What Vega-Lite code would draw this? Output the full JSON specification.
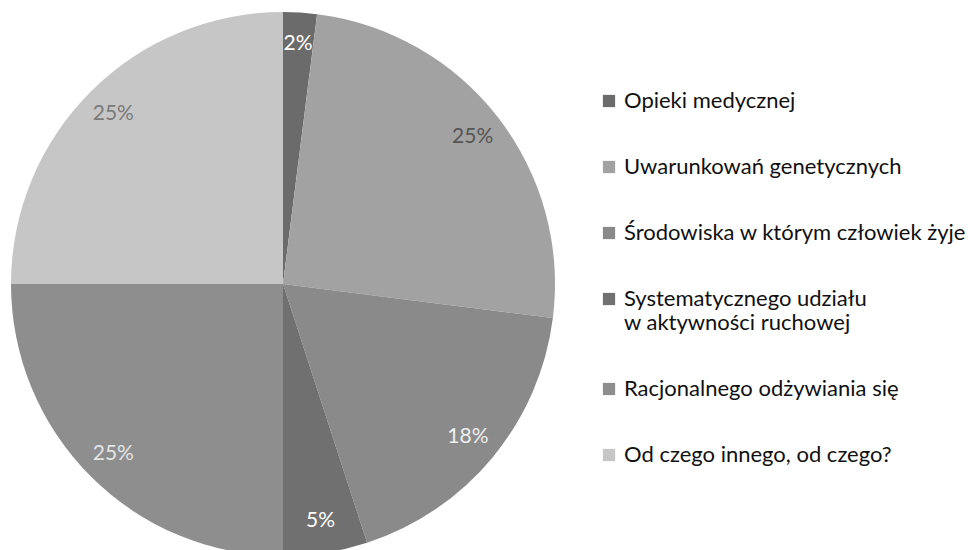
{
  "$schema": "https://vega.github.io/schema/vega-lite/v6.json",
  "width": 566,
  "height": 568,
  "autosize": {"type": "pad"},
  "padding": 0,
  "background": "white",
  "config": {"view": {"stroke": null}},
  "data": {"values": [
    {"order": 1, "category": "Opieki medycznej", "value": 2, "label": "2%"},
    {"order": 2, "category": "Uwarunkowań genetycznych", "value": 25, "label": "25%"},
    {"order": 3, "category": "Środowiska w którym człowiek żyje", "value": 18, "label": "18%"},
    {"order": 4, "category": "Systematycznego udziału w aktywności ruchowej", "value": 5, "label": "5%"},
    {"order": 5, "category": "Racjonalnego odżywiania się", "value": 25, "label": "25%"},
    {"order": 6, "category": "Od czego innego, od czego?", "value": 25, "label": "25%"}
  ]},
  "encoding": {
    "theta": {"field": "value", "type": "quantitative", "stack": true},
    "order": {"field": "order", "type": "quantitative"}
  },
  "layer": [
    {
      "mark": {"type": "arc", "outerRadius": 272},
      "encoding": {
        "color": {
          "field": "category", "type": "nominal", "sort": null,
          "scale": {
            "domain": ["Opieki medycznej", "Uwarunkowań genetycznych", "Środowiska w którym człowiek żyje", "Systematycznego udziału w aktywności ruchowej", "Racjonalnego odżywiania się", "Od czego innego, od czego?"],
            "range": ["#6b6b6b", "#a2a2a2", "#8a8a8a", "#707070", "#8e8e8e", "#c6c6c6"]
          },
          "legend": {
            "title": null,
            "orient": "none",
            "legendX": 598,
            "legendY": 90,
            "symbolType": "square",
            "symbolSize": 150,
            "symbolStrokeWidth": 0,
            "labelFont": "Lato",
            "labelFontSize": 22,
            "labelColor": "#111",
            "labelLimit": 400,
            "labelOffset": 4,
            "rowPadding": 44,
            "labelExpr": "datum.label == 'Systematycznego udziału w aktywności ruchowej' ? ['Systematycznego udziału', 'w aktywności ruchowej'] : datum.label"
          }
        }
      }
    },
    {
      "mark": {"type": "text", "radius": 240, "font": "Lato", "fontSize": 21},
      "encoding": {
        "text": {"field": "label", "type": "nominal"},
        "fill": {
          "field": "category", "type": "nominal", "sort": null,
          "scale": {
            "domain": ["Opieki medycznej", "Uwarunkowań genetycznych", "Środowiska w którym człowiek żyje", "Systematycznego udziału w aktywności ruchowej", "Racjonalnego odżywiania się", "Od czego innego, od czego?"],
            "range": ["#ffffff", "#555555", "#eeeeee", "#ffffff", "#e4e4e4", "#7a7a7a"]
          },
          "legend": null
        }
      }
    }
  ]
}
